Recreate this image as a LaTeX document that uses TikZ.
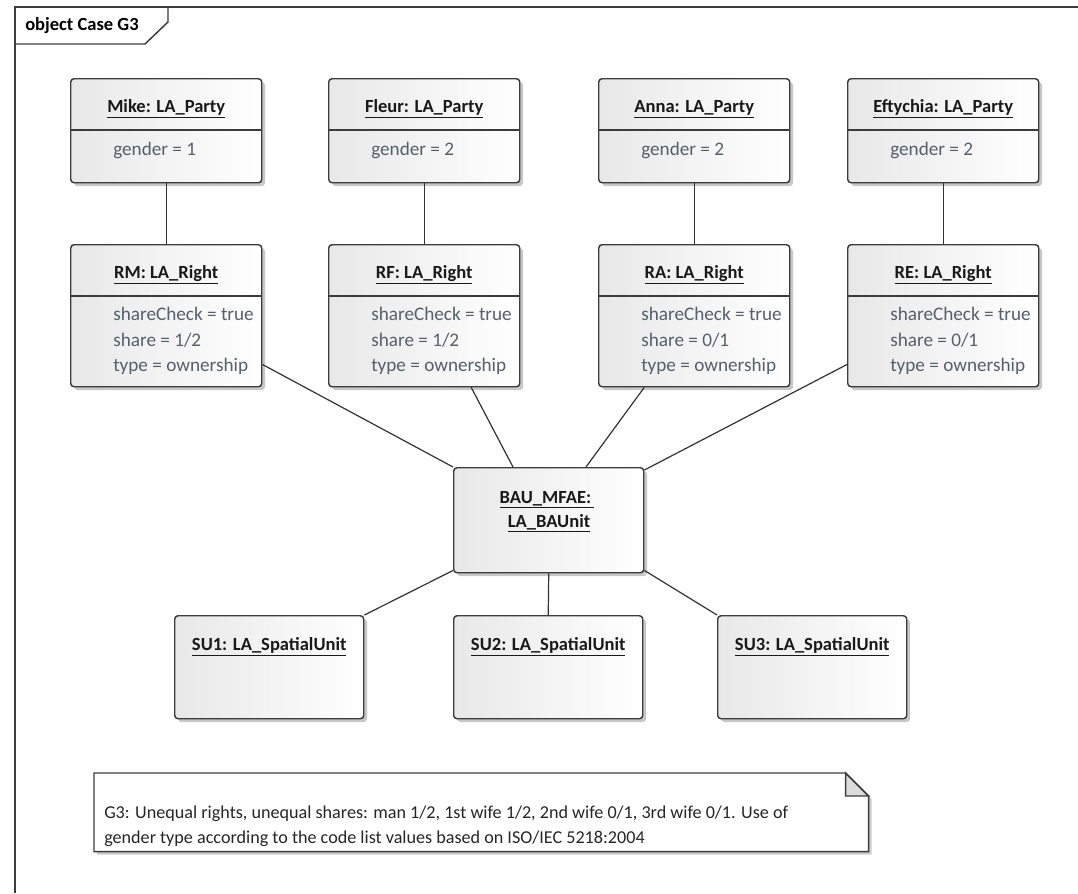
\documentclass[tikz,border=0pt]{standalone}
\usepackage{fontspec}
\setmainfont{Carlito}
\usetikzlibrary{calc,shadows}
\definecolor{attr}{RGB}{84,96,110}
\definecolor{frm}{RGB}{60,60,60}
\definecolor{foldc}{RGB}{220,220,220}
\tikzset{
  obj/.style={draw=frm, line width=1.1pt, rounded corners=2.5pt, left color=black!9, right color=white,
    drop shadow={shadow xshift=2.5pt, shadow yshift=-2.5pt, opacity=0.22, fill=black},
    anchor=north west, inner sep=0pt},
  party/.style={obj, minimum width=191*0.75pt, minimum height=104*0.75pt},
  rightbox/.style={obj, minimum width=191*0.75pt, minimum height=142*0.75pt},
  baubox/.style={obj, minimum width=190*0.75pt, minimum height=105*0.75pt},
  subox/.style={obj, minimum width=189*0.75pt, minimum height=103*0.75pt},
  ttl/.style={font=\fontsize{13.9}{16.5}\selectfont\bfseries, text=black!90, inner sep=0pt, anchor=base},
  att/.style={font=\fontsize{14.4}{16.5}\selectfont, text=attr, inner sep=0pt, anchor=base west},
  notetxt/.style={font=\fontsize{13.6}{16.5}\selectfont, text=black!85, inner sep=0pt, anchor=base west},
  divl/.style={draw=frm, line width=1.1pt},
  conn/.style={draw=black!80, line width=0.9pt},
}
\newcommand{\ul}[1]{\underline{#1}}
\begin{document}
\begin{tikzpicture}[x=0.75pt,y=-0.75pt]
\useasboundingbox (0,0) rectangle (1078,893);
\fill[white] (0,0) rectangle (1078,893);
% frame
\draw[frm, line width=1.1pt] (15,893) -- (15,7) -- (1078,7);
\draw[frm, line width=1.1pt] (168,7) -- (168,22) -- (145,44) -- (15,44);
\node[font=\fontsize{13.9}{16.5}\selectfont\bfseries, anchor=base west, inner sep=0pt] (frameT) at (25,30) {object Case G3};

% parties
\foreach \n/\x/\name/\g in {mike/70/Mike/1, fleur/328/Fleur/2, anna/598/Anna/2, efty/847/Eftychia/2}{
  \node[party] (\n) at (\x,78) {};
  \draw[divl] ($(\n.north west)+(0,52)$) -- ($(\n.north east)+(0,52)$);
  \node[ttl] (\n T) at ($(\n.north)+(0,34)$) {\ul{\name: LA\_Party}};
  \node[att] (\n A) at ($(\n.north west)+(43,77)$) {gender = \g};
}
% rights
\foreach \n/\x/\name/\s in {rm/70/RM/1\slash 2, rf/328/RF/1\slash 2, ra/598/RA/0\slash 1, re/847/RE/0\slash 1}{
  \node[rightbox] (\n) at (\x,244) {};
  \draw[divl] ($(\n.north west)+(0,52)$) -- ($(\n.north east)+(0,52)$);
  \node[ttl] (\n T) at ($(\n.north)+(0,34)$) {\ul{\name: LA\_Right}};
  \node[att] (\n A1) at ($(\n.north west)+(43,76)$) {shareCheck = true};
  \node[att] (\n A2) at ($(\n.north west)+(43,102)$) {share = \s};
  \node[att] (\n A3) at ($(\n.north west)+(43,127)$) {type = ownership};
}
% BAU
\node[baubox] (bau) at (453,467) {};
\node[ttl] (bauT1) at (547,503) {\ul{BAU\_MFAE:\,}};
\node[ttl] (bauT2) at (549,527) {\ul{LA\_BAUnit}};
% spatial units
\foreach \n/\x/\name in {su1/174/SU1, su2/453/SU2, su3/717/SU3}{
  \node[subox] (\n) at (\x,615) {};
  \node[ttl] (\n T) at ($(\n.north)+(0,35)$) {\ul{\name: LA\_SpatialUnit}};
}
% note
\node[anchor=north west, inner sep=0pt, minimum width=774*0.75pt, minimum height=78*0.75pt] (note) at (94,773) {};
\fill[black, opacity=0.2] ($(note.north west)+(3,3)$) -- ($(note.north east)+(-20,3)$) -- ($(note.north east)+(3,26)$) -- ($(note.south east)+(3,3)$) -- ($(note.south west)+(3,3)$) -- cycle;
\filldraw[fill=white, draw=frm, line width=1.1pt] (note.north west) -- ($(note.north east)+(-23,0)$) -- ($(note.north east)+(0,23)$) -- (note.south east) -- (note.south west) -- cycle;
\filldraw[fill=foldc, draw=frm, line width=1.1pt] ($(note.north east)+(-23,0)$) -- ($(note.north east)+(-23,23)$) -- ($(note.north east)+(0,23)$) -- cycle;
\node[notetxt] (noteT1) at ($(note.north west)+(10,45)$) {G3: Unequal rights, unequal shares: man 1/2, 1st wife 1/2, 2nd wife 0/1, 3rd wife 0/1. Use of};
\node[notetxt] (noteT2) at ($(note.north west)+(10,70)$) {gender type according to the code list values based on ISO/IEC 5218:2004};

% connectors
\draw[conn] (mike.south) -- (rm.north);
\draw[conn] (fleur.south) -- (rf.north);
\draw[conn] (anna.south) -- (ra.north);
\draw[conn] (efty.south) -- (re.north);
\draw[conn] ($(rm.south east)+(0,-23)$) -- (bau.north west);
\draw[conn] ($(rf.south)+(47,0)$) -- ($(bau.north west)+(60,0)$);
\draw[conn] ($(ra.south)+(-50,0)$) -- ($(bau.north west)+(133,0)$);
\draw[conn] ($(re.south west)+(0,-23)$) -- ($(bau.north east)+(0,3)$);
\draw[conn] ($(bau.south west)+(0,-3)$) -- (su1.north east);
\draw[conn] (bau.south) -- (su2.north);
\draw[conn] ($(bau.south east)+(0,-3)$) -- (su3.north west);
\end{tikzpicture}
\end{document}
